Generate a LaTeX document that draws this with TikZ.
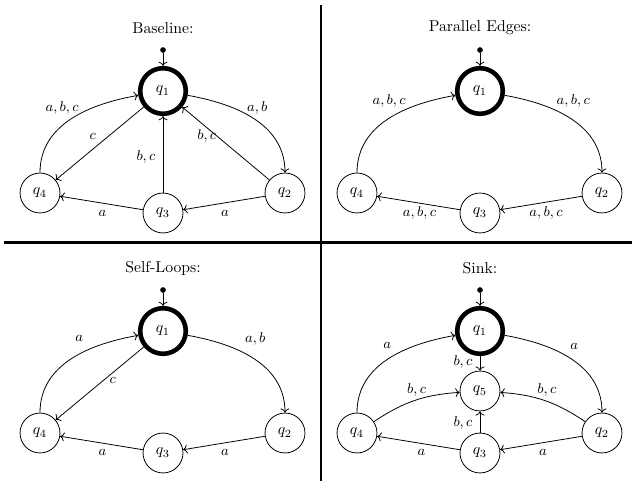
\documentclass[tikz,border=0pt]{standalone}
\usetikzlibrary{arrows.meta}
\begin{document}
\begin{tikzpicture}[x=0.636pt, y=-0.636pt,
  st/.style={circle, draw, line width=0.5pt, minimum size=25.4pt, inner sep=0pt},
  init/.style={st, line width=2.9pt, minimum size=29pt},
  lbl/.style={font=\small, inner sep=1pt},
  off/.style 2 args={anchor=center, xshift={(#1)*0.636pt}, yshift={-(#2)*0.636pt}},
  tr/.style={->, line width=0.5pt},
  dotn/.style={circle, fill, inner sep=0pt, minimum size=3.6pt},
  ttl/.style={font=\normalsize},
  divider/.style={line width=1.9pt}]
\useasboundingbox (0,0) rectangle (632,481);

% ---------------- Baseline
\begin{scope}
\node[ttl] (t1) at (163,28) {Baseline:};
\node[dotn] (a0) at (163,50) {};
\node[init] (a1) at (163,91) {$q_1$};
\node[st] (a2) at (285,193) {$q_2$};
\node[st] (a3) at (163,213) {$q_3$};
\node[st] (a4) at (40,193) {$q_4$};
\draw[tr] (a0) -- (a1);
\draw[tr] (a1) to[out=-10,in=90] node[lbl, off={3}{-11}] {$a,b$} (a2);
\draw[tr] (a4) to[out=90,in=190] node[lbl, off={-9}{-11}] {$a,b,c$} (a1);
\draw[tr] (a1) -- node[lbl, off={-7}{-7}] {$c$} (a4);
\draw[tr] (a3) -- node[lbl, off={-17}{2.5}] {$b,c$} (a1);
\draw[tr] (a2) -- node[lbl, off={-19}{-7.5}] {$b,c$} (a1);
\draw[tr] (a2) -- node[lbl, off={1}{10}] {$a$} (a3);
\draw[tr] (a3) -- node[lbl, off={1}{10}] {$a$} (a4);
\end{scope}

% ---------------- Parallel Edges
\begin{scope}[shift={(317,0)}]
\node[ttl] (t2) at (163,28) {Parallel Edges:};
\node[dotn] (b0) at (163,50) {};
\node[init] (b1) at (163,91) {$q_1$};
\node[st] (b2) at (285,193) {$q_2$};
\node[st] (b3) at (163,213) {$q_3$};
\node[st] (b4) at (40,193) {$q_4$};
\draw[tr] (b0) -- (b1);
\draw[tr] (b1) to[out=-10,in=90] node[lbl, off={2}{-18}] {$a,b,c$} (b2);
\draw[tr] (b4) to[out=90,in=190] node[lbl, off={1}{-18}] {$a,b,c$} (b1);
\draw[tr] (b2) -- node[lbl, off={5}{10}] {$a,b,c$} (b3);
\draw[tr] (b3) -- node[lbl, off={1}{10}] {$a,b,c$} (b4);
\end{scope}

% ---------------- Self-Loops
\begin{scope}[shift={(0,240)}]
\node[ttl] (t3) at (163,28) {Self-Loops:};
\node[dotn] (c0) at (163,50) {};
\node[init] (c1) at (163,91) {$q_1$};
\node[st] (c2) at (285,193) {$q_2$};
\node[st] (c3) at (163,213) {$q_3$};
\node[st] (c4) at (40,193) {$q_4$};
\draw[tr] (c0) -- (c1);
\draw[tr] (c1) to[out=-10,in=90] node[lbl, off={1}{-20}] {$a,b$} (c2);
\draw[tr] (c4) to[out=90,in=190] node[lbl, off={8}{-20}] {$a$} (c1);
\draw[tr] (c1) -- node[lbl, off={13}{-3}] {$c$} (c4);
\draw[tr] (c2) -- node[lbl, off={1}{9}] {$a$} (c3);
\draw[tr] (c3) -- node[lbl, off={1}{9}] {$a$} (c4);
\end{scope}

% ---------------- Sink
\begin{scope}[shift={(317,240)}]
\node[ttl] (t4) at (163,28) {Sink:};
\node[dotn] (d0) at (163,50) {};
\node[init] (d1) at (163,91) {$q_1$};
\node[st] (d2) at (285,193) {$q_2$};
\node[st] (d3) at (163,213) {$q_3$};
\node[st] (d4) at (40,193) {$q_4$};
\node[st] (d5) at (163,151) {$q_5$};
\draw[tr] (d0) -- (d1);
\draw[tr] (d1) to[out=-10,in=90] node[lbl, off={3}{-13}] {$a$} (d2);
\draw[tr] (d4) to[out=90,in=190] node[lbl, off={-1}{-13}] {$a$} (d1);
\draw[tr] (d1) -- node[lbl, off={-17}{-1.5}] {$b,c$} (d5);
\draw[tr] (d3) -- node[lbl, off={-17}{1}] {$b,c$} (d5);
\draw[tr] (d4) to[bend left=15] node[lbl, off={2}{-11}] {$b,c$} (d5);
\draw[tr] (d2) to[bend right=15] node[lbl, off={2}{-11}] {$b,c$} (d5);
\draw[tr] (d2) -- node[lbl, off={2}{9}] {$a$} (d3);
\draw[tr] (d3) -- node[lbl, off={3}{9}] {$a$} (d4);
\end{scope}

% ---------------- dividers
\coordinate (vtop) at (321,5);
\coordinate (vbot) at (321,481);
\coordinate (hleft) at (4,242.5);
\coordinate (hright) at (632,242.5);
\draw[divider] (vtop) -- (vbot);
\draw[divider] (hleft) -- (hright);
\end{tikzpicture}
\end{document}
